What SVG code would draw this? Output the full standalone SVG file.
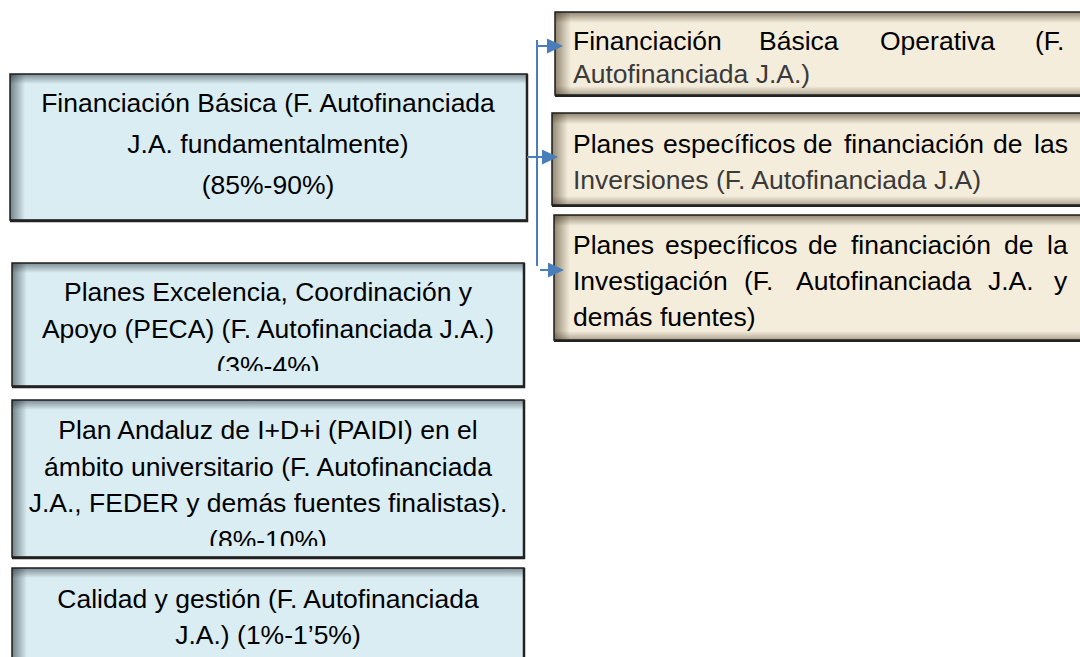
<svg xmlns="http://www.w3.org/2000/svg" width="1080" height="657" viewBox="0 0 1080 657">
<style>
.t{font-family:"Liberation Sans",Arial,sans-serif;font-size:26.5px;fill:#000}
.g{fill:#3a3a3a}
.c{text-anchor:middle}
.blue{fill:#daedf3}
.beige{fill:#f5eddc}
.bord{fill:none;stroke:#1c1c1c;stroke-width:1.5}
.conn{fill:none;stroke:#4a7ebb;stroke-width:2}
</style>
<defs>
<linearGradient id="bL" x1="0" y1="0" x2="1" y2="0"><stop offset="0" stop-color="#1d2a30" stop-opacity="0.55"/><stop offset="1" stop-color="#1d2a30" stop-opacity="0"/></linearGradient>
<linearGradient id="bT" x1="0" y1="0" x2="0" y2="1"><stop offset="0" stop-color="#1d2a30" stop-opacity="0.5"/><stop offset="1" stop-color="#1d2a30" stop-opacity="0"/></linearGradient>
<linearGradient id="eL" x1="0" y1="0" x2="1" y2="0"><stop offset="0" stop-color="#3e321a" stop-opacity="0.55"/><stop offset="1" stop-color="#3e321a" stop-opacity="0"/></linearGradient>
<linearGradient id="eT" x1="0" y1="0" x2="0" y2="1"><stop offset="0" stop-color="#3e321a" stop-opacity="0.55"/><stop offset="1" stop-color="#3e321a" stop-opacity="0"/></linearGradient>
<linearGradient id="eB" x1="0" y1="1" x2="0" y2="0"><stop offset="0" stop-color="#3e321a" stop-opacity="0.4"/><stop offset="1" stop-color="#3e321a" stop-opacity="0"/></linearGradient>
<marker id="arr" markerUnits="userSpaceOnUse" viewBox="0 0 16 15" refX="0" refY="7.5" markerWidth="16" markerHeight="15" orient="auto">
<path d="M0,0 L16,7.5 L0,15 z" fill="#4a7ebb"/>
</marker>
<clipPath id="clipR1"><rect x="555" y="12" width="530" height="76"/></clipPath>
<clipPath id="clipB2"><rect x="12" y="263" width="512" height="108"/></clipPath>
<clipPath id="clipB3"><rect x="12" y="400" width="512" height="146"/></clipPath>
</defs>

<g id="node-financiacion-basica">
<rect class="blue" x="10" y="74" width="517" height="146"/>
<rect x="10" y="74" width="15" height="146" fill="url(#bL)"/>
<rect x="10" y="74" width="517" height="10" fill="url(#bT)"/>
<rect class="bord" x="10" y="74" width="517" height="146"/>
<path d="M527,74 V221 H10" fill="none" stroke="#222" stroke-width="2.5"/>
<text class="t c" x="268" y="112">Financiación Básica (F. Autofinanciada</text>
<text class="t c" x="268" y="153">J.A. fundamentalmente)</text>
<text class="t c" x="268" y="194">(85%-90%)</text>
</g>

<g id="node-peca">
<rect class="blue" x="12" y="263" width="512" height="123"/>
<rect x="12" y="263" width="15" height="123" fill="url(#bL)"/>
<rect x="12" y="263" width="512" height="10" fill="url(#bT)"/>
<rect class="bord" x="12" y="263" width="512" height="123"/>
<path d="M524,263 V387 H12" fill="none" stroke="#222" stroke-width="2.5"/>
<g clip-path="url(#clipB2)">
<text class="t c" x="268" y="301">Planes Excelencia, Coordinación y</text>
<text class="t c" x="268" y="338">Apoyo (PECA) (F. Autofinanciada J.A.)</text>
<text class="t c" x="268" y="375">(3%-4%)</text>
</g>
</g>

<g id="node-paidi">
<rect class="blue" x="12" y="400" width="512" height="157"/>
<rect x="12" y="400" width="15" height="157" fill="url(#bL)"/>
<rect x="12" y="400" width="512" height="10" fill="url(#bT)"/>
<rect class="bord" x="12" y="400" width="512" height="157"/>
<path d="M524,400 V558 H12" fill="none" stroke="#222" stroke-width="2.5"/>
<g clip-path="url(#clipB3)">
<text class="t c" x="268" y="439">Plan Andaluz de I+D+i (PAIDI) en el</text>
<text class="t c" x="268" y="476">ámbito universitario (F. Autofinanciada</text>
<text class="t c" x="268" y="512">J.A., FEDER y demás fuentes finalistas).</text>
<text class="t c" x="268" y="549">(8%-10%)</text>
</g>
</g>

<g id="node-calidad">
<rect class="blue" x="12" y="568" width="512" height="100"/>
<rect x="12" y="568" width="15" height="100" fill="url(#bL)"/>
<rect x="12" y="568" width="512" height="10" fill="url(#bT)"/>
<rect class="bord" x="12" y="568" width="512" height="100"/>
<path d="M524,568 V668" fill="none" stroke="#222" stroke-width="2.5"/>
<text class="t c" x="268" y="608">Calidad y gestión (F. Autofinanciada</text>
<text class="t c" x="268" y="644">J.A.) (1%-1’5%)</text>
</g>

<g id="node-basica-operativa">
<rect class="beige" x="555" y="12" width="540" height="83"/>
<rect x="555" y="12" width="16" height="83" fill="url(#eL)"/>
<rect x="555" y="12" width="540" height="11" fill="url(#eT)"/>
<rect x="555" y="86" width="540" height="9" fill="url(#eB)"/>
<rect class="bord" x="555" y="12" width="540" height="83"/>
<path d="M555,96 H1085" fill="none" stroke="#222" stroke-width="2"/>
<g clip-path="url(#clipR1)">
<text class="t" y="50"><tspan x="573">Financiación</tspan><tspan x="759">Básica</tspan><tspan x="880">Operativa</tspan><tspan x="1035">(F.</tspan></text>
<text class="t g" x="573" y="83">Autofinanciada J.A.)</text>
</g>
</g>

<g id="node-inversiones">
<rect class="beige" x="552" y="113" width="540" height="92"/>
<rect x="552" y="113" width="16" height="92" fill="url(#eL)"/>
<rect x="552" y="113" width="540" height="11" fill="url(#eT)"/>
<rect x="552" y="196" width="540" height="9" fill="url(#eB)"/>
<rect class="bord" x="552" y="113" width="540" height="92"/>
<path d="M552,206 H1085" fill="none" stroke="#222" stroke-width="2"/>
<text class="t" y="153"><tspan x="573">Planes</tspan><tspan x="663">específicos</tspan><tspan x="803">de</tspan><tspan x="844">financiación</tspan><tspan x="993">de</tspan><tspan x="1034">las</tspan></text>
<text class="t g" x="573" y="189">Inversiones (F. Autofinanciada J.A)</text>
</g>

<g id="node-investigacion">
<rect class="beige" x="554" y="215" width="540" height="125"/>
<rect x="554" y="215" width="16" height="125" fill="url(#eL)"/>
<rect x="554" y="215" width="540" height="11" fill="url(#eT)"/>
<rect x="554" y="331" width="540" height="9" fill="url(#eB)"/>
<rect class="bord" x="554" y="215" width="540" height="125"/>
<path d="M554,341 H1085" fill="none" stroke="#222" stroke-width="2"/>
<text class="t" y="254"><tspan x="573">Planes</tspan><tspan x="665">específicos</tspan><tspan x="808">de</tspan><tspan x="851">financiación</tspan><tspan x="1004">de</tspan><tspan x="1047">la</tspan></text>
<text class="t" y="290"><tspan x="573">Investigación</tspan><tspan x="744">(F.</tspan><tspan x="796">Autofinanciada</tspan><tspan x="988">J.A.</tspan><tspan x="1054">y</tspan></text>
<text class="t" x="573" y="326">demás fuentes)</text>
</g>

<g id="connectors">
<path class="conn" d="M537,40 V266"/>
<path class="conn" d="M537,46 H547" marker-end="url(#arr)"/>
<path class="conn" d="M527,157 H542" marker-end="url(#arr)"/>
<path class="conn" d="M540,270 H548" marker-end="url(#arr)"/>
</g>
</svg>
